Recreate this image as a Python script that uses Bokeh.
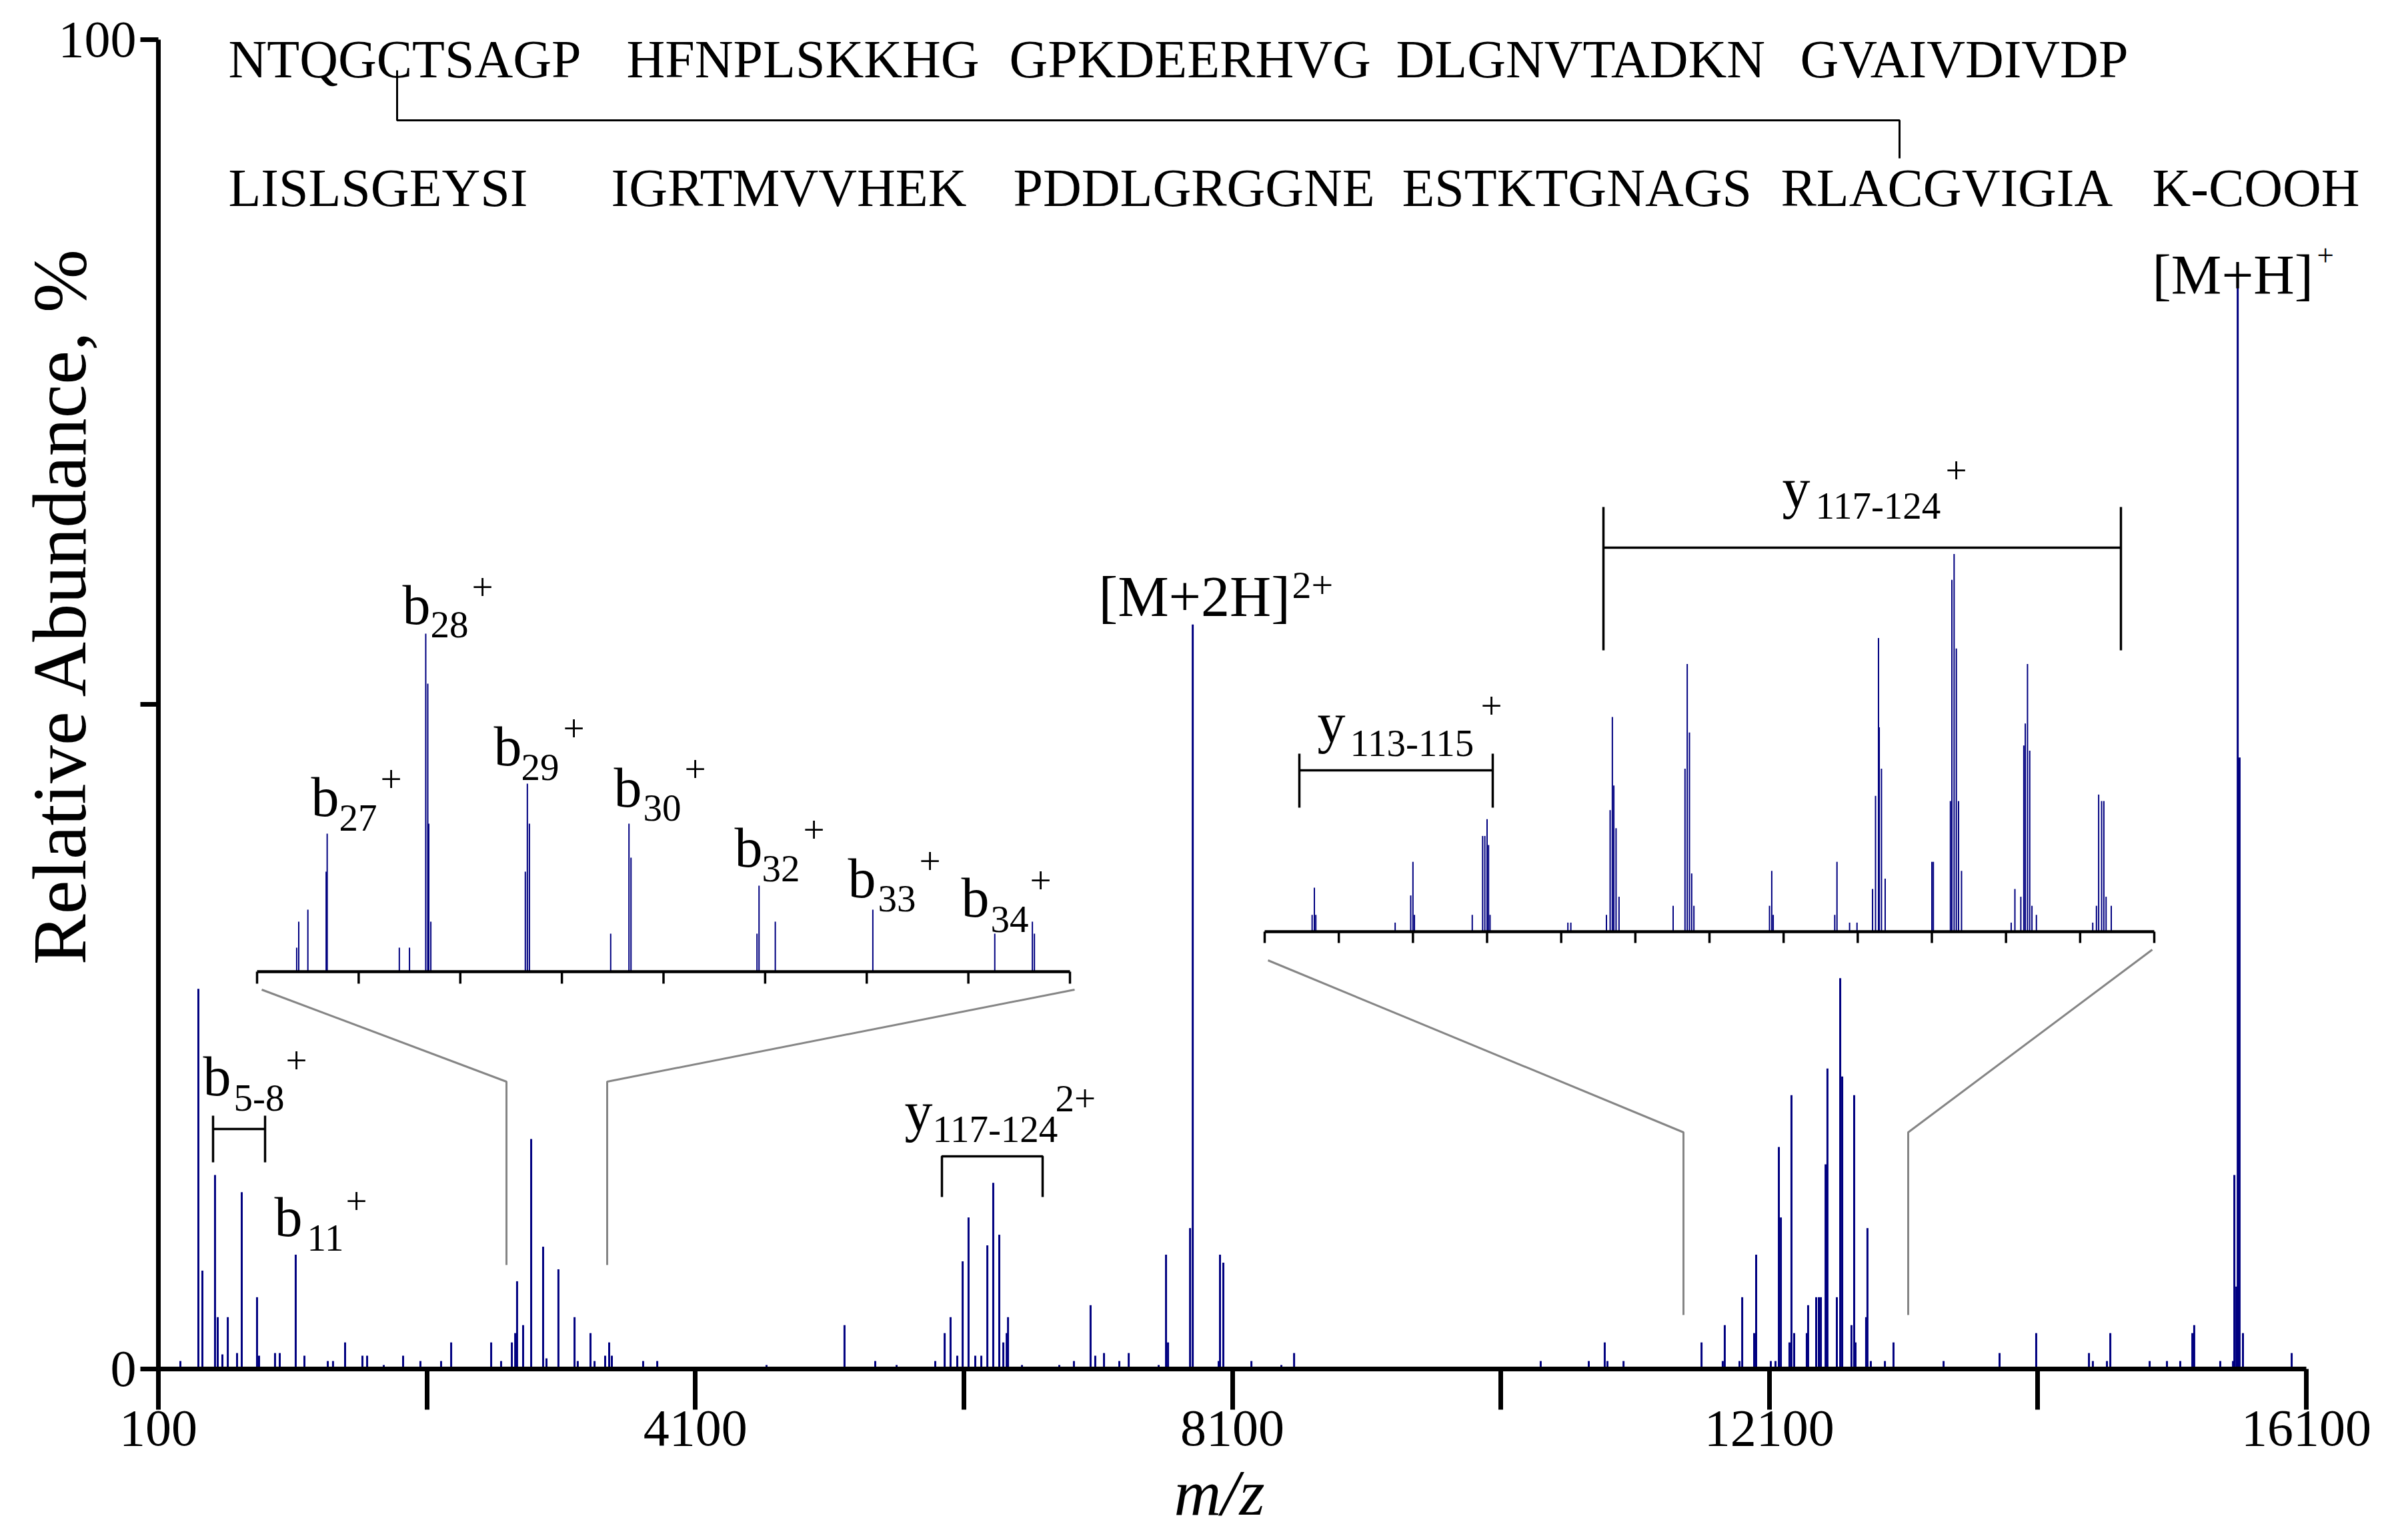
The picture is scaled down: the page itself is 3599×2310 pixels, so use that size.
import numpy as np
from bokeh.plotting import figure
from bokeh.models import Range1d, FixedTicker, Label
from bokeh.embed import file_html
from bokeh.resources import INLINE

# ------------------------------------------------------------------ data
# main spectrum: m/z and relative abundance (%)
MAIN_MZ = [264, 398, 428, 522, 542, 577, 617, 686, 721, 835,
           850, 969, 1004, 1123, 1188, 1362, 1401, 1491, 1620, 1655,
           1779, 1923, 2052, 2206, 2281, 2579, 2653, 2733, 2758, 2772,
           2817, 2877, 2966, 2991, 3080, 3200, 3224, 3319, 3349, 3428,
           3458, 3478, 3711, 3816, 4630, 5211, 5440, 5599, 5887, 5957,
           6001, 6051, 6091, 6135, 6185, 6230, 6275, 6319, 6364, 6394,
           6419, 6429, 6533, 6811, 6920, 7044, 7079, 7144, 7258, 7328,
           7551, 7606, 7621, 7785, 7805, 7998, 8008, 8033, 8242, 8465,
           8560, 10397, 10755, 10874, 10894, 11014, 11595, 11753, 11768, 11878,
           11898, 11987, 12002, 12111, 12146, 12171, 12186, 12250, 12265, 12285,
           12379, 12389, 12449, 12469, 12484, 12519, 12533, 12603, 12628, 12643,
           12712, 12732, 12742, 12821, 12831, 12856, 12961, 13025, 13398, 13815,
           14088, 14481, 14510, 14615, 14640, 14933, 15062, 15161, 15251, 15265,
           15459, 15554, 15564, 15579, 15589, 15603, 15628, 15991]
MAIN_INT = [0.6, 28.6, 7.4, 14.6, 3.9, 1.1, 3.9, 1.2, 13.3, 5.4,
            1.0, 1.2, 1.2, 8.6, 1.0, 0.6, 0.6, 2.0, 1.0, 1.0,
            0.3, 1.0, 0.6, 0.6, 2.0, 2.0, 0.6, 2.0, 2.7, 6.6,
            3.3, 17.3, 9.2, 0.8, 7.5, 3.9, 0.6, 2.7, 0.6, 1.0,
            2.0, 1.0, 0.6, 0.6, 0.3, 3.3, 0.6, 0.3, 0.6, 2.7,
            3.9, 1.0, 8.1, 11.4, 1.0, 1.0, 9.3, 14.0, 10.1, 2.0,
            2.7, 3.9, 0.3, 0.3, 0.6, 4.8, 1.0, 1.2, 0.6, 1.2,
            0.3, 8.6, 2.0, 10.6, 56.0, 0.6, 8.6, 8.0, 0.6, 0.3,
            1.2, 0.6, 0.6, 2.0, 0.6, 0.6, 2.0, 0.6, 3.3, 0.6,
            5.4, 2.7, 8.6, 0.6, 0.6, 16.7, 11.4, 2.0, 20.6, 2.7,
            2.7, 4.8, 5.4, 5.4, 5.4, 15.4, 22.6, 5.4, 29.4, 22.0,
            3.3, 20.6, 2.0, 3.9, 10.6, 0.6, 0.6, 2.0, 0.6, 1.2,
            2.7, 1.2, 0.6, 0.6, 2.7, 0.6, 0.6, 0.6, 2.7, 3.3,
            0.6, 0.6, 14.6, 6.2, 82.1, 46.0, 2.7, 1.2]

# inset 1 (b-ion region)
INSET1_RANGE = (2700, 3500)
INSET1_MZ = [2739, 2741, 2750, 2768, 2769, 2840, 2850, 2866, 2868, 2869, 2871, 2964,
             2966, 2968, 3048, 3066, 3068, 3192, 3194, 3210, 3306, 3426, 3463, 3465]
INSET1_INT = [1.2, 2.5, 3.1, 5.0, 6.9, 1.2, 1.2, 16.9, 14.4, 7.4, 2.5, 5.0,
              9.4, 7.4, 1.9, 7.4, 5.7, 1.9, 4.3, 2.5, 3.1, 1.9, 2.5, 1.9]

# inset 2 (y-ion region)
INSET2_RANGE = (11700, 12900)
INSET2_MZ = [11764, 11767, 11769, 11876, 11897, 11900, 11902, 11980, 11994, 11997,
             12000, 12002, 12004, 12109, 12113, 12161, 12166, 12169, 12171, 12174,
             12178, 12251, 12267, 12270, 12273, 12276, 12279, 12381, 12384, 12386,
             12469, 12472, 12489, 12499, 12520, 12524, 12528, 12529, 12532, 12537,
             12600, 12602, 12625, 12627, 12630, 12633, 12636, 12640, 12707, 12712,
             12720, 12724, 12726, 12729, 12732, 12735, 12741, 12817, 12822, 12825,
             12829, 12832, 12835, 12842]
INSET2_INT = [1.3, 3.4, 1.3, 0.7, 2.8, 5.4, 1.3, 1.3, 7.4, 7.4,
              8.7, 6.7, 1.3, 0.7, 0.7, 1.3, 9.4, 16.6, 11.3, 8.0,
              2.7, 2.0, 12.6, 20.7, 15.4, 4.5, 2.0, 2.0, 4.7, 1.3,
              1.3, 5.4, 0.7, 0.7, 3.3, 10.5, 22.7, 15.8, 12.6, 4.1,
              5.4, 5.4, 10.1, 27.2, 29.2, 21.9, 10.1, 4.7, 0.7, 3.3,
              2.7, 14.4, 16.1, 20.7, 14.0, 2.0, 1.3, 0.7, 2.0, 10.6,
              10.1, 10.1, 2.7, 2.0]

X_TICKS = [100, 2100, 4100, 6100, 8100, 10100, 12100, 14100, 16100]
X_TICK_LABELS = {100: "100", 2100: "", 4100: "4100", 6100: "", 8100: "8100",
                 10100: "", 12100: "12100", 14100: "", 16100: "16100"}
Y_TICKS = [0, 50, 100]
Y_TICK_LABELS = {0: "0", 50: "", 100: "100"}
INSET_TICK_STEP = 100

SEQ_LINE1 = ["NTQGCTSAGP", "HFNPLSKKHG", "GPKDEERHVG", "DLGNVTADKN", "GVAIVDIVDP"]
SEQ_LINE2 = ["LISLSGEYSI", "IGRTMVVHEK", "PDDLGRGGNE", "ESTKTGNAGS", "RLACGVIGIA", "K-COOH"]

assert len(MAIN_MZ) == len(MAIN_INT)
assert len(INSET1_MZ) == len(INSET1_INT)
assert len(INSET2_MZ) == len(INSET2_INT)

# ------------------------------------------------------------------ layout
FONT = "Liberation Serif"
NAVY = "#000080"
GRAY = "#858585"
W, H = 3580, 2294
PAGE = 8
REF_L, REF_R, REF_T, REF_B = 245, 3466, 67, 2061   # data box in page pixels
X0, X1, Y0, Y1 = 100, 16100, 0, 100
BASE_FIX = 0.2     # baseline correction for labels (fraction of font size)


def mx(px):
    return X0 + (px - REF_L) * (X1 - X0) / (REF_R - REF_L)


def my(py):
    return Y0 + (REF_B - py) * (Y1 - Y0) / (REF_B - REF_T)


# the frame covers the whole canvas; axes are pinned at fixed data locations
p = figure(width=W, height=H, title=None,
           x_range=Range1d(mx(PAGE), mx(PAGE + W)),
           y_range=Range1d(my(PAGE + H), my(PAGE)),
           output_backend="svg", toolbar_location=None,
           min_border=0, min_border_left=0, min_border_right=0,
           min_border_top=0, min_border_bottom=0)
p.outline_line_color = None
p.xgrid.visible = False
p.ygrid.visible = False
p.background_fill_color = "white"
p.border_fill_color = "white"

for ax, ticks, labels, tout, stand, loc, bnds in (
        (p.xaxis[0], X_TICKS, X_TICK_LABELS, 61, 2, Y0, (X0, X1)),
        (p.yaxis[0], Y_TICKS, Y_TICK_LABELS, 27, 6, X0, (Y0, Y1))):
    ax.fixed_location = loc
    ax.bounds = bnds
    ax.ticker = FixedTicker(ticks=ticks)
    ax.major_label_overrides = labels
    ax.axis_line_width = 7
    ax.axis_line_color = "black"
    ax.major_tick_line_width = 7
    ax.major_tick_line_color = "black"
    ax.major_tick_out = tout
    ax.major_tick_in = 0
    ax.minor_tick_line_color = None
    ax.major_label_text_font = FONT
    ax.major_label_text_font_size = "78px"
    ax.major_label_text_color = "black"
    ax.major_label_standoff = stand

# inset geometry (page pixels)
INSETS = {
    "i1": dict(rng=INSET1_RANGE, mz=INSET1_MZ, it=INSET1_INT, left=393, right=1612,
               base=1465, k=30.0, tick=18, lw=2),
    "i2": dict(rng=INSET2_RANGE, mz=INSET2_MZ, it=INSET2_INT, left=1904, right=3238,
               base=1405, k=19.4, tick=17, lw=2),
}
exx, exy = {}, {}
CL, CR, CT, CB = PAGE, PAGE + W, PAGE, PAGE + H     # canvas edges in page pixels
for name, g in INSETS.items():
    lo, hi = g["rng"]
    s = (hi - lo) / (g["right"] - g["left"])
    exx[name + "x"] = Range1d(lo - (g["left"] - CL) * s, lo + (CR - g["left"]) * s)
    exy[name + "y"] = Range1d(-(CB - g["base"]) / g["k"], (g["base"] - CT) / g["k"])
p.extra_x_ranges = exx
p.extra_y_ranges = exy

# main spectrum
p.segment(x0=MAIN_MZ, y0=0, x1=MAIN_MZ, y1=MAIN_INT, line_color=NAVY, line_width=3)

# insets
for name, g in INSETS.items():
    lo, hi = g["rng"]
    xr, yr = name + "x", name + "y"
    p.segment(x0=g["mz"], y0=0, x1=g["mz"], y1=g["it"], line_color=NAVY,
              line_width=g["lw"], x_range_name=xr, y_range_name=yr)
    p.segment(x0=[lo], y0=[0], x1=[hi], y1=[0], line_color="black", line_width=4.5,
              x_range_name=xr, y_range_name=yr)
    tx = list(np.arange(lo, hi + 1, INSET_TICK_STEP))
    p.segment(x0=tx, y0=0, x1=tx, y1=-g["tick"] / g["k"], line_color="black",
              line_width=3.5, x_range_name=xr, y_range_name=yr)


def poly(pts, color="black", width=3.5):
    p.line(x=[mx(a) for a, b in pts], y=[my(b) for a, b in pts],
           line_color=color, line_width=width)


# zoom connectors
for pts in ([(400, 1492), (767, 1630), (767, 1905)],
            [(1619, 1492), (918, 1630), (918, 1905)],
            [(1909, 1448), (2532, 1706), (2532, 1980)],
            [(3235, 1432), (2869, 1706), (2869, 1980)]):
    poly(pts, GRAY, 3)

# disulfide bond
poly([(603, 113), (603, 188), (2856, 188), (2856, 245)], "black", 3)

# ion brackets
for (xa, xb, yh, yt, yb) in ((327, 405, 1701, 1681, 1751),
                             (1956, 2246, 1163, 1138, 1219),
                             (2412, 3188, 829, 768, 983)):
    poly([(xa, yh), (xb, yh)], "black", 3.5)
    poly([(xa, yt), (xa, yb)], "black", 3.5)
    poly([(xb, yt), (xb, yb)], "black", 3.5)
poly([(1420, 1803), (1420, 1742), (1571, 1742), (1571, 1803)], "black", 3.5)


def txt(px, py, s, size, align="left", style="normal", angle=0.0):
    rotated = abs(angle) > 0.1
    p.add_layout(Label(x=mx(px), y=my(py), text=s, text_font=FONT,
                       text_font_size=f"{size}px", text_font_style=style,
                       text_align=align, text_baseline="alphabetic",
                       x_offset=(-BASE_FIX * size if rotated else 0),
                       y_offset=(0 if rotated else BASE_FIX * size),
                       text_color="black", angle=angle))


# sequence
for s, x0 in zip(SEQ_LINE1, [350, 947, 1521, 2101, 2707]):
    txt(x0, 112, s, 80)
for s, x0 in zip(SEQ_LINE2, [350, 924, 1527, 2110, 2678, 3235]):
    txt(x0, 305, s, 80)

# ion labels: base, sub, sup with page-pixel anchors
ION_LABELS = [
    ("b", "5-8", "+", 312, 1639, 358, 1666, 436, 1610),
    ("b", "11", "+", 419, 1850, 468, 1876, 526, 1821),
    ("b", "27", "+", 474, 1220, 516, 1246, 578, 1188),
    ("b", "28", "+", 611, 932, 653, 956, 715, 900),
    ("b", "29", "+", 748, 1144, 789, 1170, 852, 1112),
    ("b", "30", "+", 928, 1206, 972, 1231, 1034, 1173),
    ("b", "32", "+", 1109, 1296, 1150, 1322, 1212, 1264),
    ("b", "33", "+", 1279, 1342, 1324, 1367, 1386, 1311),
    ("b", "34", "+", 1449, 1371, 1493, 1398, 1552, 1340),
    ("y", "117-124", "2+", 1364, 1692, 1406, 1713, 1590, 1667),
    ("y", "113-115", "+", 1983, 1109, 2032, 1134, 2228, 1078),
    ("y", "117-124", "+", 2680, 757, 2730, 778, 2925, 725),
]
for base, sub, sup, bx, by, sx, sy, ux, uy in ION_LABELS:
    txt(bx, by, base, 84)
    txt(sx, sy, sub, 57)
    txt(ux, uy, sup, 57)

txt(1655, 920, "[M+2H]", 86)
txt(1945, 897, "2+", 58)
txt(3235, 436, "[M+H]", 85)
txt(3482, 400, "+", 45)

# axis titles
txt(120, 915, "Relative Abundance, %", 114, align="center", angle=np.pi / 2)
txt(1836, 2266, "m/z", 98, align="center", style="italic")

open("out.html", "w").write(file_html(p, INLINE))
